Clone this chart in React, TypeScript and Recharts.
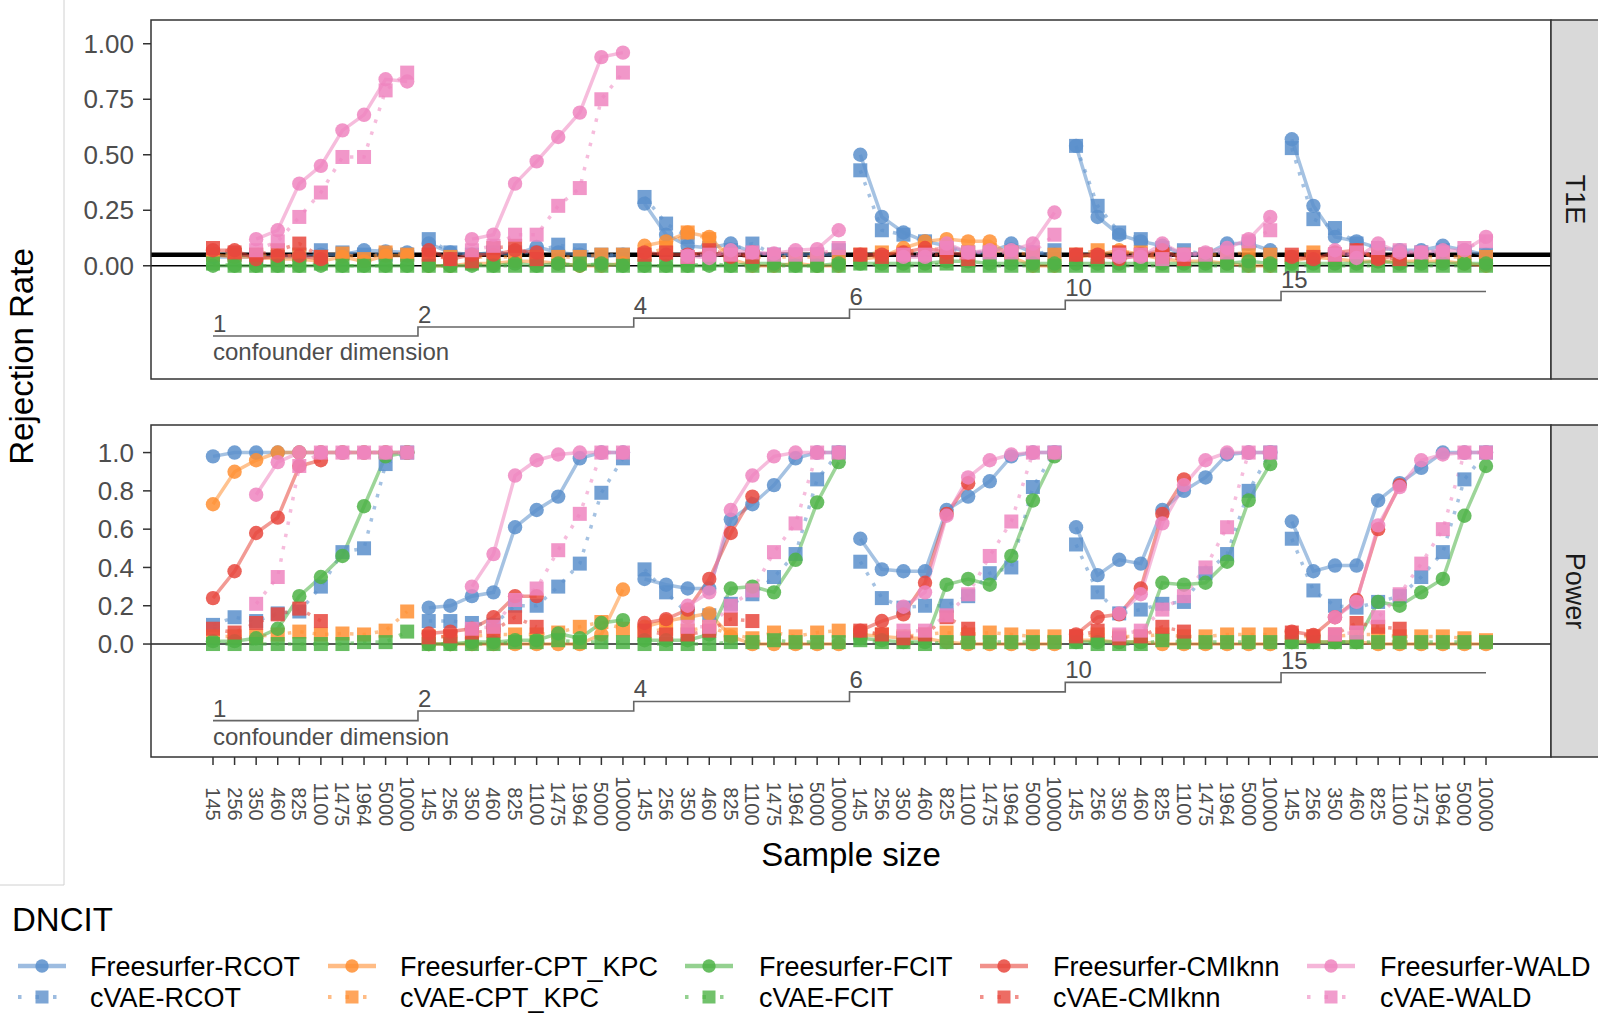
import React from 'react';
import { LineChart, Line, XAxis, YAxis, ReferenceLine, LabelList } from 'recharts';

const N = null;
const FONT = '"Liberation Sans", Arial, Helvetica, sans-serif';

const sampleSizes = [145, 256, 350, 460, 825, 1100, 1475, 1964, 5000, 10000];
const confounderDims = [1, 2, 4, 6, 10, 15];
const t1eStepLevels = [-0.316, -0.276, -0.236, -0.196, -0.156, -0.116];
const powerStepLevels = [-0.4, -0.35, -0.3, -0.25, -0.2, -0.15];
const t1eTicks = [0, 0.25, 0.5, 0.75, 1];
const powerTicks = [0, 0.2, 0.4, 0.6, 0.8, 1];

const methods = [
  { name: 'RCOT', color: '#5B8FCB' },
  { name: 'CPT_KPC', color: '#FF8F33' },
  { name: 'FCIT', color: '#4DB346' },
  { name: 'CMIknn', color: '#E8473D' },
  { name: 'WALD', color: '#EE85C0' },
];

// ---------- T1E ----------
const t1eFsRcot = [
  0.04, 0.04, 0.04, 0.04, 0.04, 0.05, 0.05, 0.07, 0.065, 0.06,
  0.10, 0.06, 0.05, 0.06, 0.05, 0.085, 0.06, 0.05, 0.04, 0.05,
  0.28, 0.14, 0.09, 0.08, 0.10, 0.06, 0.05, 0.05, 0.05, 0.05,
  0.50, 0.22, 0.15, 0.11, 0.09, 0.06, 0.06, 0.10, 0.06, 0.05,
  0.54, 0.22, 0.14, 0.11, 0.09, 0.05, 0.05, 0.10, 0.10, 0.07,
  0.57, 0.27, 0.13, 0.11, 0.08, 0.07, 0.07, 0.09, 0.07, 0.05,
];
const t1eCvRcot = [
  0.05, 0.05, 0.04, 0.04, 0.05, 0.07, 0.06, 0.05, 0.05, 0.05,
  0.12, 0.06, 0.05, 0.06, 0.06, 0.06, 0.095, 0.07, 0.05, 0.05,
  0.31, 0.19, 0.13, 0.08, 0.07, 0.10, 0.05, 0.05, 0.05, 0.07,
  0.43, 0.16, 0.14, 0.11, 0.08, 0.06, 0.06, 0.06, 0.05, 0.07,
  0.54, 0.27, 0.15, 0.12, 0.08, 0.07, 0.05, 0.07, 0.10, 0.05,
  0.53, 0.21, 0.17, 0.10, 0.08, 0.06, 0.06, 0.07, 0.06, 0.05,
];
const t1eFsCpt = [
  0.05, 0.04, 0.04, 0.03, 0.03, 0.02, 0.04, 0.02, 0.045, 0.045,
  0.00, 0.00, 0.01, 0.01, 0.02, 0.02, 0.01, 0.00, 0.00, 0.01,
  0.09, 0.11, 0.15, 0.13, 0.03, 0.00, 0.00, 0.01, 0.00, 0.00,
  0.03, 0.04, 0.08, 0.11, 0.12, 0.11, 0.11, 0.04, 0.00, 0.00,
  0.04, 0.05, 0.07, 0.05, 0.03, 0.02, 0.02, 0.01, 0.00, 0.00,
  0.02, 0.04, 0.03, 0.02, 0.02, 0.02, 0.02, 0.02, 0.01, 0.00,
];
const t1eCvCpt = [
  0.05, 0.05, 0.05, 0.04, 0.05, 0.04, 0.055, 0.03, 0.06, 0.05,
  0.04, 0.04, 0.04, 0.04, 0.04, 0.04, 0.04, 0.04, 0.05, 0.05,
  0.05, 0.08, 0.15, 0.12, 0.05, 0.04, 0.04, 0.04, 0.04, 0.04,
  0.05, 0.06, 0.06, 0.08, 0.07, 0.06, 0.07, 0.06, 0.05, 0.05,
  0.05, 0.07, 0.06, 0.06, 0.05, 0.05, 0.05, 0.05, 0.06, 0.05,
  0.04, 0.06, 0.05, 0.05, 0.05, 0.04, 0.04, 0.04, 0.04, 0.04,
];
const t1eFsFcit = [
  0.00, 0.00, 0.00, 0.00, 0.00, 0.00, 0.00, 0.00, 0.00, 0.00,
  0.00, 0.00, 0.00, 0.00, 0.01, 0.00, 0.01, 0.00, 0.01, 0.00,
  0.00, 0.00, 0.00, 0.00, 0.00, 0.01, 0.01, 0.00, 0.00, 0.01,
  0.01, 0.01, 0.01, 0.01, 0.02, 0.02, 0.01, 0.01, 0.01, 0.01,
  0.01, 0.01, 0.01, 0.01, 0.01, 0.01, 0.01, 0.01, 0.02, 0.01,
  0.01, 0.01, 0.01, 0.01, 0.02, 0.01, 0.01, 0.01, 0.01, 0.01,
];
const t1eCvFcit = [
  0.01, 0.00, 0.00, 0.00, 0.00, 0.01, 0.00, 0.00, 0.00, 0.00,
  0.00, 0.00, 0.01, 0.00, 0.00, 0.00, 0.00, 0.01, 0.00, 0.00,
  0.00, 0.00, 0.00, 0.01, 0.00, 0.00, 0.00, 0.00, 0.00, 0.00,
  0.01, 0.00, 0.00, 0.00, 0.01, 0.00, 0.00, 0.00, 0.00, 0.00,
  0.00, 0.00, 0.00, 0.00, 0.00, 0.00, 0.00, 0.00, 0.00, 0.00,
  0.00, 0.00, 0.00, 0.00, 0.00, 0.00, 0.00, 0.00, 0.00, 0.00,
];
const t1eFsCmi = [
  0.07, 0.07, 0.03, 0.045, 0.045, 0.03, N, N, N, N,
  0.07, 0.03, 0.05, 0.05, 0.07, 0.06, N, N, N, N,
  0.06, 0.05, 0.05, 0.06, 0.04, 0.06, N, N, N, N,
  0.05, 0.05, 0.06, 0.08, 0.06, 0.05, N, N, N, N,
  0.05, 0.05, 0.03, 0.05, 0.07, 0.03, N, N, N, N,
  0.04, 0.03, 0.06, 0.07, 0.03, 0.05, N, N, N, N,
];
const t1eCvCmi = [
  0.08, 0.06, 0.05, 0.07, 0.10, 0.04, N, N, N, N,
  0.05, 0.03, 0.02, 0.08, 0.09, 0.03, N, N, N, N,
  0.05, 0.06, 0.04, 0.07, 0.05, 0.04, N, N, N, N,
  0.05, 0.04, 0.05, 0.06, 0.04, 0.03, N, N, N, N,
  0.05, 0.04, 0.06, 0.05, 0.04, 0.03, N, N, N, N,
  0.05, 0.04, 0.05, 0.07, 0.04, 0.03, N, N, N, N,
];
const t1eFsWald = [
  N, N, 0.12, 0.16, 0.37, 0.45, 0.61, 0.68, 0.84, 0.83,
  N, N, 0.12, 0.14, 0.37, 0.47, 0.58, 0.69, 0.94, 0.96,
  N, N, 0.045, 0.035, 0.07, 0.06, 0.055, 0.07, 0.075, 0.16,
  N, N, 0.04, 0.04, 0.10, 0.06, 0.07, 0.07, 0.10, 0.24,
  N, N, 0.04, 0.04, 0.10, 0.05, 0.06, 0.08, 0.12, 0.22,
  N, N, 0.07, 0.035, 0.10, 0.06, 0.06, 0.07, 0.07, 0.13,
];
const t1eCvWald = [
  N, N, 0.07, 0.11, 0.22, 0.33, 0.49, 0.49, 0.79, 0.87,
  N, N, 0.07, 0.09, 0.14, 0.14, 0.27, 0.35, 0.75, 0.87,
  N, N, 0.04, 0.05, 0.05, 0.06, 0.05, 0.05, 0.05, 0.08,
  N, N, 0.05, 0.05, 0.08, 0.06, 0.06, 0.06, 0.06, 0.14,
  N, N, 0.05, 0.05, 0.03, 0.05, 0.05, 0.06, 0.11, 0.16,
  N, N, 0.05, 0.06, 0.08, 0.07, 0.06, 0.06, 0.08, 0.11,
];

// ---------- Power ----------
const pwFsRcot = [
  0.98, 1, 1, 1, 1, 1, 1, 1, 1, 1,
  0.19, 0.20, 0.25, 0.27, 0.61, 0.70, 0.77, 0.97, 1, 1,
  0.34, 0.31, 0.29, 0.29, 0.65, 0.73, 0.83, 0.97, 1, 1,
  0.55, 0.39, 0.38, 0.38, 0.70, 0.77, 0.85, 0.98, 1, 1,
  0.61, 0.36, 0.44, 0.42, 0.70, 0.80, 0.87, 0.99, 1, 1,
  0.64, 0.38, 0.41, 0.41, 0.75, 0.84, 0.92, 1, 1, 1,
];
const pwCvRcot = [
  0.10, 0.14, 0.12, 0.16, 0.17, 0.30, 0.48, 0.50, 0.94, 1,
  0.12, 0.12, 0.11, 0.10, 0.20, 0.20, 0.30, 0.42, 0.79, 0.97,
  0.39, 0.27, 0.16, 0.15, 0.21, 0.26, 0.35, 0.47, 0.86, 1,
  0.43, 0.24, 0.19, 0.20, 0.20, 0.25, 0.37, 0.40, 0.82, 1,
  0.52, 0.27, 0.16, 0.18, 0.21, 0.22, 0.37, 0.47, 0.80, 1,
  0.55, 0.28, 0.20, 0.19, 0.22, 0.25, 0.35, 0.48, 0.86, 1,
];
const pwFsCpt = [
  0.73, 0.90, 0.96, 1, 1, 1, 1, 1, 1, 1,
  0, 0, 0, 0, 0, 0, 0, 0, 0.05, 0.285,
  0.09, 0.12, 0.14, 0.16, 0.04, 0, 0, 0, 0, 0,
  0.05, 0.04, 0.03, 0.03, 0.01, 0, 0, 0, 0, 0,
  0.02, 0.02, 0.01, 0.01, 0, 0, 0, 0, 0, 0,
  0.01, 0.01, 0.01, 0.01, 0, 0, 0, 0, 0, 0,
];
const pwCvCpt = [
  0.04, 0.04, 0.04, 0.05, 0.065, 0.05, 0.055, 0.05, 0.07, 0.17,
  0.04, 0.04, 0.04, 0.05, 0.05, 0.05, 0.06, 0.09, 0.115, 0.08,
  0.06, 0.08, 0.07, 0.09, 0.05, 0.03, 0.06, 0.04, 0.06, 0.07,
  0.06, 0.05, 0.04, 0.05, 0.06, 0.05, 0.06, 0.05, 0.04, 0.04,
  0.04, 0.05, 0.04, 0.04, 0.05, 0.04, 0.04, 0.05, 0.05, 0.05,
  0.04, 0.04, 0.04, 0.05, 0.05, 0.04, 0.04, 0.04, 0.03, 0.02,
];
const pwFsFcit = [
  0.015, 0.015, 0.03, 0.08, 0.25, 0.35, 0.46, 0.72, 0.98, 1,
  0, 0, 0.01, 0.01, 0.02, 0.02, 0.055, 0.03, 0.11, 0.125,
  0.02, 0.02, 0.02, 0.05, 0.29, 0.30, 0.27, 0.44, 0.74, 0.95,
  0.03, 0.02, 0.01, 0.01, 0.31, 0.34, 0.31, 0.46, 0.75, 0.98,
  0.01, 0.01, 0.01, 0.01, 0.32, 0.31, 0.32, 0.43, 0.75, 0.94,
  0.01, 0.01, 0.01, 0.01, 0.22, 0.20, 0.27, 0.34, 0.67, 0.93,
];
const pwCvFcit = [
  0, 0, 0, 0, 0, 0, 0, 0.01, 0.01, 0.065,
  0, 0, 0, 0, 0.01, 0.01, 0.02, 0.01, 0.01, 0.01,
  0, 0, 0, 0, 0.01, 0.01, 0.02, 0.01, 0.01, 0.01,
  0.02, 0.01, 0.01, 0, 0.01, 0.01, 0.01, 0.01, 0.01, 0.01,
  0.01, 0, 0, 0, 0.02, 0.01, 0.01, 0.01, 0.01, 0.01,
  0.01, 0.01, 0.01, 0.01, 0.01, 0.01, 0.01, 0.01, 0.01, 0.01,
];
const pwFsCmi = [
  0.24, 0.38, 0.58, 0.66, 0.93, 0.96, N, N, N, N,
  0.055, 0.065, 0.08, 0.14, 0.25, 0.25, N, N, N, N,
  0.11, 0.13, 0.18, 0.34, 0.58, 0.77, N, N, N, N,
  0.07, 0.12, 0.155, 0.32, 0.68, 0.84, N, N, N, N,
  0.05, 0.14, 0.155, 0.29, 0.68, 0.86, N, N, N, N,
  0.065, 0.047, 0.14, 0.23, 0.60, 0.83, N, N, N, N,
];
const pwCvCmi = [
  0.08, 0.06, 0.11, 0.155, 0.185, 0.12, N, N, N, N,
  0.035, 0.04, 0.06, 0.07, 0.14, 0.09, N, N, N, N,
  0.07, 0.05, 0.05, 0.07, 0.13, 0.12, N, N, N, N,
  0.07, 0.05, 0.03, 0.05, 0.14, 0.08, N, N, N, N,
  0.04, 0.07, 0.03, 0.04, 0.09, 0.065, N, N, N, N,
  0.06, 0.04, 0.05, 0.11, 0.09, 0.08, N, N, N, N,
];
const pwFsWald = [
  N, N, 0.78, 0.95, 1, 1, 1, 1, 1, 1,
  N, N, 0.30, 0.47, 0.88, 0.96, 0.99, 1, 1, 1,
  N, N, 0.20, 0.27, 0.70, 0.88, 0.98, 1, 1, 1,
  N, N, 0.195, 0.27, 0.67, 0.87, 0.96, 0.99, 1, 1,
  N, N, 0.16, 0.26, 0.63, 0.83, 0.96, 1, 1, 1,
  N, N, 0.14, 0.22, 0.62, 0.82, 0.96, 0.99, 1, 1,
];
const pwCvWald = [
  N, N, 0.21, 0.35, 0.93, 1, 1, 1, 1, 1,
  N, N, 0.08, 0.09, 0.23, 0.29, 0.49, 0.68, 1, 1,
  N, N, 0.09, 0.09, 0.20, 0.28, 0.48, 0.63, 1, 1,
  N, N, 0.07, 0.07, 0.15, 0.26, 0.46, 0.64, 1, 1,
  N, N, 0.05, 0.07, 0.18, 0.25, 0.40, 0.61, 1, 1,
  N, N, 0.05, 0.06, 0.14, 0.26, 0.42, 0.60, 1, 1,
];

const t1eSeries = [
  [t1eFsRcot, t1eCvRcot], [t1eFsCpt, t1eCvCpt], [t1eFsFcit, t1eCvFcit],
  [t1eFsCmi, t1eCvCmi], [t1eFsWald, t1eCvWald],
];
const powerSeries = [
  [pwFsRcot, pwCvRcot], [pwFsCpt, pwCvCpt], [pwFsFcit, pwCvFcit],
  [pwFsCmi, pwCvCmi], [pwFsWald, pwCvWald],
];

const seriesDefs = methods.flatMap((m, mi) => [
  { key: `fs_${mi}`, mi, cvae: false, color: m.color, label: `Freesurfer-${m.name}` },
  { key: `cv_${mi}`, mi, cvae: true, color: m.color, label: `cVAE-${m.name}` },
]);

function buildRows(series: any[][], steps: number[]) {
  const rows: any[] = [];
  confounderDims.forEach((d, di) => {
    if (di > 0) rows.push({ x: di * 10 - 0.5, step: steps[di], dimLabel: String(d) });
    sampleSizes.forEach((n, si) => {
      const i = di * 10 + si;
      const row: any = { x: i, step: steps[di], n };
      if (i === 0) row.dimLabel = String(d);
      seriesDefs.forEach((s) => {
        row[s.key] = series[s.mi][s.cvae ? 1 : 0][i];
      });
      rows.push(row);
    });
  });
  return rows;
}

const t1eRows = buildRows(t1eSeries, t1eStepLevels);
const powerRows = buildRows(powerSeries, powerStepLevels);
const xTicks = Array.from({ length: 60 }, (_, i) => i);

function makeDot(color: string, square: boolean) {
  return (p: any) => {
    const { cx, cy, index } = p;
    const k = `dot-${index}`;
    if (cx == null || cy == null || Number.isNaN(cx) || Number.isNaN(cy)) return <g key={k} />;
    if (square)
      return <rect key={k} x={cx - 7} y={cy - 7} width={14} height={14} fill={color} fillOpacity={0.85} />;
    return <circle key={k} cx={cx} cy={cy} r={7.2} fill={color} fillOpacity={0.85} />;
  };
}

const DimLabel = (props: any) => {
  const { value, index } = props;
  const x = props.x ?? props.viewBox?.x;
  const y = props.y ?? props.viewBox?.y;
  if (value == null || value === '' || x == null || y == null) return null;
  return (
    <g key={`lbl-${index}`}>
      <text x={x} y={y - 4} fontSize={24} fill="#4D4D4D" fontFamily={FONT}>{value}</text>
      {x < 230 && (
        <text x={x} y={y + 24} fontSize={24} fill="#4D4D4D" fontFamily={FONT}>confounder dimension</text>
      )}
    </g>
  );
};

const SampleTick = (props: any) => {
  const { x, payload } = props;
  const label = sampleSizes[Math.round(payload.value) % 10];
  return (
    <text
      transform={`translate(${x},399) rotate(90)`}
      textAnchor="middle"
      dominantBaseline="central"
      fontSize={20}
      fill="#4D4D4D"
      fontFamily={FONT}
    >
      {label}
    </text>
  );
};

function renderSeries() {
  const lines = seriesDefs.map((s) => (
    <Line
      key={`line-${s.key}`}
      dataKey={s.key}
      type="linear"
      stroke={s.color}
      strokeOpacity={0.55}
      strokeWidth={3.5}
      strokeDasharray={s.cvae ? '3.5 9' : undefined}
      dot={false}
      activeDot={false}
      isAnimationActive={false}
    />
  ));
  const dots = seriesDefs.map((s) => (
    <Line
      key={`pts-${s.key}`}
      dataKey={s.key}
      type="linear"
      stroke="none"
      dot={makeDot(s.color, s.cvae)}
      activeDot={false}
      isAnimationActive={false}
    />
  ));
  return [...lines, ...dots];
}

function Panel(props: any) {
  const { rows, domain, ticks, digits, top, height, bottomAxis, refs } = props;
  return (
    <div style={{ position: 'absolute', left: 0, top }}>
      <LineChart
        width={1551}
        height={height}
        data={rows}
        margin={{ top: 20, right: 0, bottom: bottomAxis ? 0 : 21, left: 0 }}
      >
        <XAxis
          type="number"
          dataKey="x"
          domain={[0, 59]}
          ticks={xTicks}
          interval={0}
          padding={{ left: 62, right: 65 }}
          hide={!bottomAxis}
          height={100}
          axisLine={false}
          tickSize={8}
          tickMargin={2}
          tickLine={{ stroke: '#333333', strokeWidth: 1.5 }}
          tick={<SampleTick />}
        />
        <YAxis
          type="number"
          domain={domain}
          allowDataOverflow
          ticks={ticks}
          interval={0}
          width={151}
          axisLine={false}
          tickSize={8}
          tickMargin={9}
          tickLine={{ stroke: '#333333', strokeWidth: 1.5 }}
          tick={{ fill: '#4D4D4D', fontSize: 26, fontFamily: FONT }}
          tickFormatter={(v: number) => v.toFixed(digits)}
        />
        {refs}
        <Line
          dataKey="step"
          type="stepAfter"
          stroke="#666666"
          strokeWidth={1.6}
          dot={false}
          activeDot={false}
          isAnimationActive={false}
        >
          <LabelList dataKey="dimLabel" content={DimLabel} />
        </Line>
        {renderSeries()}
      </LineChart>
    </div>
  );
}

function LegendKey({ x, y, color, cvae }: any) {
  if (cvae) {
    return (
      <g>
        <line x1={x} y1={y} x2={x + 48} y2={y} stroke={color} strokeOpacity={0.6} strokeWidth={4}
          strokeDasharray="3.5 14" />
        <rect x={x + 17.5} y={y - 6.5} width={13} height={13} fill={color} fillOpacity={0.8} />
      </g>
    );
  }
  return (
    <g>
      <line x1={x} y1={y} x2={x + 48} y2={y} stroke={color} strokeOpacity={0.6} strokeWidth={4.5} />
      <circle cx={x + 24} cy={y} r={6.7} fill={color} fillOpacity={0.85} />
    </g>
  );
}

const legendKeyX = [18, 328, 685, 980, 1307];
const legendTextX = [90, 400, 759, 1053, 1380];
const legendRowY = [966, 997];

export default function App() {
  return (
    <div style={{ position: 'absolute', left: 0, top: 0, width: 1598, height: 1021, background: '#fff', overflow: 'hidden', fontFamily: FONT }}>
      <Panel
        rows={t1eRows}
        domain={[-0.51, 1.107]}
        ticks={t1eTicks}
        digits={2}
        top={0}
        height={400}
        bottomAxis={false}
        refs={[
          <ReferenceLine key="z" y={0} stroke="#000" strokeWidth={1.3} />,
          <ReferenceLine key="a" y={0.05} stroke="#000" strokeWidth={4.5} />,
        ]}
      />
      <Panel
        rows={powerRows}
        domain={[-0.59, 1.144]}
        ticks={powerTicks}
        digits={1}
        top={405}
        height={452}
        bottomAxis={true}
        refs={[<ReferenceLine key="z" y={0} stroke="#222" strokeWidth={1.6} />]}
      />
      <svg width={1598} height={1021} style={{ position: 'absolute', left: 0, top: 0, pointerEvents: 'none' }}>
        <line x1={64} y1={0} x2={64} y2={885} stroke="#D0D0D0" strokeWidth={1} />
        <line x1={0} y1={885} x2={64} y2={885} stroke="#D0D0D0" strokeWidth={1} />
        <rect x={151} y={20} width={1400} height={359} fill="none" stroke="#333" strokeWidth={1.5} />
        <rect x={151} y={425} width={1400} height={332} fill="none" stroke="#333" strokeWidth={1.5} />
        <rect x={1551} y={20} width={60} height={359} fill="#D9D9D9" stroke="#333" strokeWidth={1.5} />
        <rect x={1551} y={425} width={60} height={332} fill="#D9D9D9" stroke="#333" strokeWidth={1.5} />
        <text transform="translate(1575,199.5) rotate(90)" textAnchor="middle" dominantBaseline="central"
          fontSize={27} fill="#1A1A1A" fontFamily={FONT}>T1E</text>
        <text transform="translate(1575,591) rotate(90)" textAnchor="middle" dominantBaseline="central"
          fontSize={27} fill="#1A1A1A" fontFamily={FONT}>Power</text>
        <text transform="translate(33,356.5) rotate(-90)" textAnchor="middle" fontSize={33} fill="#000" fontFamily={FONT}>
          Rejection Rate
        </text>
        <text x={851} y={866} textAnchor="middle" fontSize={33} fill="#000" fontFamily={FONT}>Sample size</text>
        <text x={12} y={931} fontSize={33} fill="#000" fontFamily={FONT}>DNCIT</text>
        {methods.map((m, mi) => (
          <g key={m.name}>
            <LegendKey x={legendKeyX[mi]} y={legendRowY[0]} color={m.color} cvae={false} />
            <text x={legendTextX[mi]} y={legendRowY[0] + 9.5} fontSize={27} fill="#000" fontFamily={FONT}>
              {`Freesurfer-${m.name}`}
            </text>
            <LegendKey x={legendKeyX[mi]} y={legendRowY[1]} color={m.color} cvae={true} />
            <text x={legendTextX[mi]} y={legendRowY[1] + 9.5} fontSize={27} fill="#000" fontFamily={FONT}>
              {`cVAE-${m.name}`}
            </text>
          </g>
        ))}
      </svg>
    </div>
  );
}
